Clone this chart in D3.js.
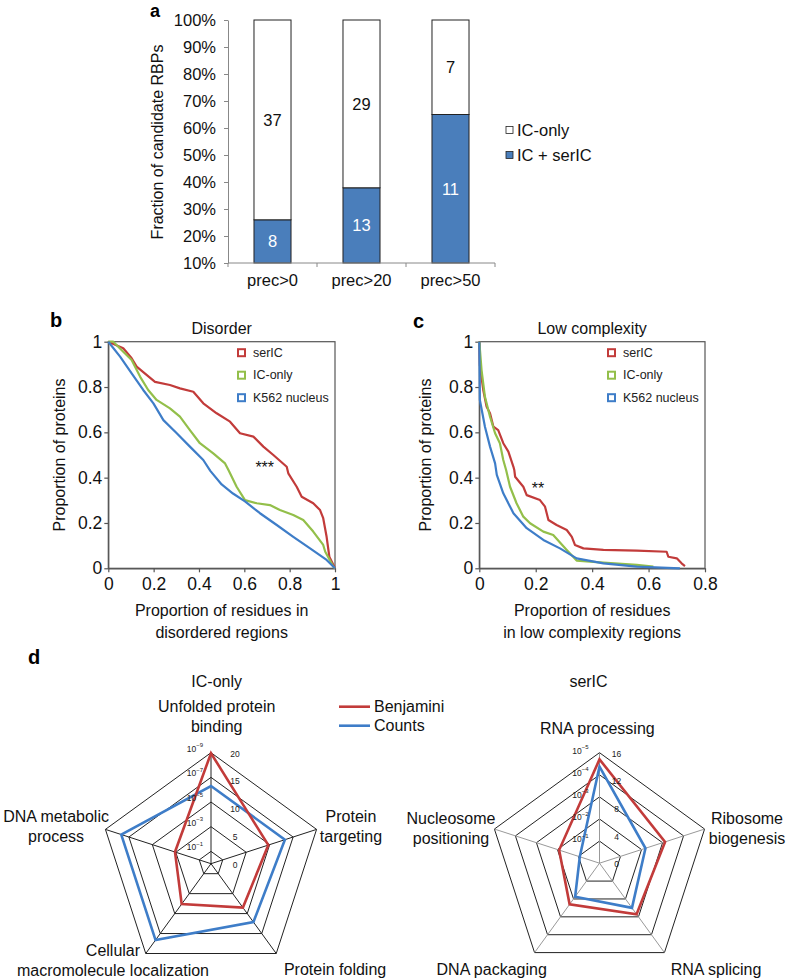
<!DOCTYPE html>
<html><head><meta charset="utf-8">
<script src="https://cdn.jsdelivr.net/npm/d3@7"></script>
<style>
body{margin:0;background:#fff;}
svg{display:block;font-family:Arial,"Liberation Sans",Helvetica,sans-serif;}
</style></head><body>
<svg id="fig" width="788" height="980"></svg>
<script>
// ---------- Panel a data ----------
const barCategories = ["prec>0", "prec>20", "prec>50"];
const icOnlyCounts = [37, 29, 7];
const icSerICCounts = [8, 13, 11];
const barTickLabels = ["10%","20%","30%","40%","50%","60%","70%","80%","90%","100%"];
const barLegend = ["IC-only", "IC + serIC"];

// ---------- Panel b data (x = proportion of residues, y = proportion of proteins) ----------
const disorderTicks = [0, 0.2, 0.4, 0.6, 0.8, 1];
const disorderSerIC = [[0,1],[0.066,0.971],[0.103,0.927],[0.125,0.89],[0.206,0.823],[0.272,0.809],[0.316,0.794],[0.375,0.779],[0.419,0.728],[0.478,0.684],[0.537,0.647],[0.581,0.596],[0.64,0.581],[0.684,0.537],[0.728,0.5],[0.787,0.448],[0.794,0.419],[0.831,0.36],[0.853,0.316],[0.904,0.287],[0.934,0.257],[0.948,0.221],[0.963,0.139],[0.975,0.051],[0.993,0.015],[1,0]];
const disorderICOnly = [[0,1],[0.022,1],[0.066,0.956],[0.103,0.919],[0.14,0.846],[0.176,0.787],[0.213,0.743],[0.272,0.706],[0.316,0.669],[0.36,0.61],[0.404,0.552],[0.463,0.507],[0.515,0.463],[0.53,0.434],[0.566,0.36],[0.603,0.301],[0.655,0.287],[0.713,0.279],[0.757,0.257],[0.816,0.235],[0.86,0.213],[0.904,0.162],[0.948,0.103],[0.957,0.073],[0.993,0.007],[1,0]];
const disorderK562 = [[0,1],[0.052,0.934],[0.103,0.86],[0.154,0.787],[0.199,0.728],[0.243,0.654],[0.302,0.596],[0.36,0.537],[0.419,0.478],[0.45,0.43],[0.5,0.37],[0.55,0.33],[0.603,0.295],[0.669,0.243],[0.743,0.191],[0.816,0.139],[0.89,0.088],[0.963,0.037],[1,0]];

// ---------- Panel c data ----------
const lowcTicksX = [0, 0.2, 0.4, 0.6, 0.8];
const lowcTicksY = [0, 0.2, 0.4, 0.6, 0.8, 1];
const lowcSerIC = [[0,1],[0.002,0.897],[0.014,0.787],[0.026,0.713],[0.038,0.684],[0.05,0.625],[0.067,0.61],[0.085,0.552],[0.103,0.515],[0.121,0.448],[0.124,0.434],[0.127,0.404],[0.156,0.36],[0.168,0.323],[0.215,0.301],[0.233,0.272],[0.245,0.213],[0.274,0.191],[0.31,0.169],[0.328,0.139],[0.339,0.103],[0.369,0.088],[0.44,0.081],[0.558,0.078],[0.664,0.073],[0.67,0.051],[0.7,0.044],[0.717,0.022],[0.729,0.01]];
const lowcICOnly = [[0,1],[0.008,0.875],[0.02,0.757],[0.038,0.669],[0.056,0.596],[0.073,0.552],[0.085,0.478],[0.095,0.434],[0.109,0.36],[0.132,0.287],[0.156,0.228],[0.18,0.199],[0.227,0.162],[0.262,0.147],[0.31,0.081],[0.345,0.034],[0.44,0.025],[0.558,0.015],[0.617,0.007]];
const lowcK562 = [[0,1],[0.002,0.743],[0.02,0.625],[0.038,0.537],[0.056,0.463],[0.062,0.412],[0.085,0.331],[0.121,0.243],[0.168,0.177],[0.227,0.125],[0.286,0.088],[0.345,0.044],[0.44,0.022],[0.558,0.007],[0.711,0]];
const curveLegend = ["serIC", "IC-only", "K562 nucleus"];

// ---------- Panel d data ----------
const icOnlyTerms = [["Unfolded protein","binding"],["Protein","targeting"],["Protein folding"],["Cellular","macromolecule localization"],["DNA metabolic","process"]];
const icOnlyBenjaminiP = [1.1e-9, 1.3e-5, 4e-5, 9e-5, 8.5e-4];
const icOnlyGOCounts = [14, 14, 13, 17, 17];
const icOnlyPTicks = [1e-1, 1e-3, 1e-5, 1e-7, 1e-9];
const icOnlyCountTicks = [0, 5, 10, 15, 20];

const serICTerms = [["RNA processing"],["Ribosome","biogenesis"],["RNA splicing"],["DNA packaging"],["Nucleosome","positioning"]];
const serICBenjaminiP = [2e-5, 7.6e-4, 1.4e-3, 5e-3, 1.2e-2];
const serICGOCounts = [14, 7, 8, 6, 3];
const serICPTicks = [1e-1, 1e-2, 1e-3, 1e-4, 1e-5];
const serICCountTicks = [0, 4, 8, 12, 16];
const radarLegend = ["Benjamini", "Counts"];

// ---------- styling ----------
const RED = "#c23b3a", GREEN = "#93bf4a", BLUE = "#3e7dc8", BARBLUE = "#4a7ebb";
const AXIS = "#555";
const svg = d3.select("#fig");

function panelLabel(t, x, y, fs) {
  svg.append("text").attr("x", x).attr("y", y).attr("font-size", fs || 20).attr("font-weight", "bold").text(t);
}

// ================= Panel a =================
(function () {
  const x = d3.scaleBand().domain(barCategories).range([228, 495]).paddingInner(0.584).paddingOuter(0.292);
  const y = d3.scaleLinear().domain([0, 1]).range([263, 20]);
  const tickY = d3.scalePoint().domain(barTickLabels).range([263, 20]);
  const g = svg.append("g");

  const data = barCategories.map((c, i) => {
    const tot = icOnlyCounts[i] + icSerICCounts[i];
    return { c, a: icSerICCounts[i], b: icOnlyCounts[i], f: icSerICCounts[i] / tot };
  });

  g.selectAll("rect.blue").data(data).join("rect")
    .attr("x", d => x(d.c)).attr("width", x.bandwidth())
    .attr("y", d => y(d.f)).attr("height", d => y(0) - y(d.f))
    .attr("fill", BARBLUE).attr("stroke", "#222").attr("stroke-width", 1);
  g.selectAll("rect.white").data(data).join("rect")
    .attr("x", d => x(d.c)).attr("width", x.bandwidth())
    .attr("y", y(1)).attr("height", d => y(d.f) - y(1))
    .attr("fill", "#fff").attr("stroke", "#222").attr("stroke-width", 1);

  g.selectAll("text.bl").data(data).join("text")
    .attr("x", d => x(d.c) + x.bandwidth() / 2).attr("y", d => (y(0) + y(d.f)) / 2)
    .attr("text-anchor", "middle").attr("dominant-baseline", "central")
    .attr("font-size", 16.5).attr("fill", "#fff").text(d => d.a);
  g.selectAll("text.wl").data(data).join("text")
    .attr("x", d => x(d.c) + x.bandwidth() / 2).attr("y", d => (y(1) + y(d.f)) / 2)
    .attr("text-anchor", "middle").attr("dominant-baseline", "central")
    .attr("font-size", 16.5).attr("fill", "#111").text(d => d.b);

  const ya = g.append("g").attr("transform", "translate(228,0)")
    .call(d3.axisLeft(tickY).tickSize(4).tickSizeOuter(0).tickPadding(8));
  ya.selectAll("text").attr("font-size", 16.5).attr("fill", "#111").attr("font-family", null);
  ya.selectAll("line,path").attr("stroke", "#888");

  const xr = x.range(), step = x.step();
  g.append("line").attr("x1", xr[0]).attr("x2", xr[1]).attr("y1", y(0)).attr("y2", y(0)).attr("stroke", "#888");
  g.selectAll("line.xt").data(d3.range(barCategories.length + 1)).join("line")
    .attr("x1", i => xr[0] + i * step).attr("x2", i => xr[0] + i * step)
    .attr("y1", y(0)).attr("y2", y(0) + 4).attr("stroke", "#888");
  g.selectAll("text.xl").data(barCategories).join("text")
    .attr("x", d => x(d) + x.bandwidth() / 2).attr("y", 286)
    .attr("text-anchor", "middle").attr("font-size", 16.5).attr("fill", "#111").text(d => d);

  g.append("text").attr("transform", "translate(157,142) rotate(-90)")
    .attr("text-anchor", "middle").attr("dominant-baseline", "central")
    .attr("font-size", 16).attr("fill", "#111").text("Fraction of candidate RBPs");

  const fills = ["#fff", BARBLUE];
  const lg = g.selectAll("g.lg").data(barLegend).join("g")
    .attr("transform", (d, i) => `translate(506,${130 + i * 25})`);
  lg.append("rect").attr("x", 0).attr("y", -3.5).attr("width", 7).attr("height", 7)
    .attr("fill", (d, i) => fills[i]).attr("stroke", "#222").attr("stroke-width", 0.8);
  lg.append("text").attr("x", 11).attr("y", 0).attr("dominant-baseline", "central")
    .attr("font-size", 16.5).attr("fill", "#111").text(d => d);

  panelLabel("a", 150, 17, 18);
})();

// ================= Panels b & c =================
function cdfPanel(o) {
  const g = svg.append("g");
  const x = d3.scaleLinear().domain(o.xDomain).range(o.xRange);
  const y = d3.scaleLinear().domain([0, 1]).range([568.3, 341.7]);
  const [x0, x1] = o.xRange, y0 = y(0), y1 = y(1);

  g.append("rect").attr("x", x0).attr("y", y1).attr("width", x1 - x0).attr("height", y0 - y1)
    .attr("fill", "none").attr("stroke", AXIS).attr("stroke-width", 1.2);

  const xa = g.append("g").attr("transform", `translate(0,${y0})`)
    .call(d3.axisBottom(x).tickValues(o.xTicks).tickFormat(d => String(d)).tickSize(4).tickSizeOuter(0).tickPadding(5));
  const ya = g.append("g").attr("transform", `translate(${x0},0)`)
    .call(d3.axisLeft(y).tickValues(o.yTicks).tickFormat(d => String(d)).tickSize(4).tickSizeOuter(0).tickPadding(2));
  [xa, ya].forEach(a => {
    a.selectAll("text").attr("font-size", 17.5).attr("fill", "#111").attr("font-family", null);
    a.selectAll("line,path").attr("stroke", AXIS).attr("stroke-width", 1.2);
  });

  const line = d3.line().x(d => x(d[0])).y(d => y(d[1]));
  o.series.forEach(s => {
    g.append("path").datum(s.data).attr("d", line).attr("fill", "none")
      .attr("stroke", s.color).attr("stroke-width", 2.2).attr("stroke-linejoin", "round");
  });

  const lg = g.selectAll("g.lg").data(o.series).join("g")
    .attr("transform", (d, i) => `translate(${o.legX},${352.7 + i * 22.5})`);
  lg.append("rect").attr("x", 0).attr("y", -3.5).attr("width", 7).attr("height", 7)
    .attr("fill", "#fff").attr("stroke", d => d.color).attr("stroke-width", 2);
  lg.append("text").attr("x", 15).attr("y", 0).attr("dominant-baseline", "central")
    .attr("font-size", 12.5).attr("fill", "#222").text(d => d.name);

  g.append("text").attr("x", (x0 + x1) / 2).attr("y", 328).attr("text-anchor", "middle")
    .attr("dominant-baseline", "central").attr("font-size", 16).attr("fill", "#111").text(o.title);
  o.xTitle.forEach((t, i) => g.append("text").attr("x", (x0 + x1) / 2).attr("y", 610 + i * 22)
    .attr("text-anchor", "middle").attr("dominant-baseline", "central")
    .attr("font-size", 16).attr("fill", "#111").text(t));
  g.append("text").attr("transform", `translate(${o.yTitleX},${(y0 + y1) / 2}) rotate(-90)`)
    .attr("text-anchor", "middle").attr("dominant-baseline", "central")
    .attr("font-size", 16).attr("fill", "#111").text("Proportion of proteins");
  g.append("text").attr("x", x(o.star[0])).attr("y", y(o.star[1])).attr("text-anchor", "middle")
    .attr("dominant-baseline", "central").attr("font-size", 16).attr("fill", "#111").text(o.star[2]);
}

cdfPanel({
  title: "Disorder", xDomain: [0, 1], xRange: [108.3, 335], xTicks: disorderTicks, yTicks: disorderTicks,
  series: [
    { name: curveLegend[0], color: RED, data: disorderSerIC },
    { name: curveLegend[1], color: GREEN, data: disorderICOnly },
    { name: curveLegend[2], color: BLUE, data: disorderK562 }],
  legX: 238, xTitle: ["Proportion of residues in", "disordered regions"], yTitleX: 59,
  star: [0.69, 0.445, "***"]
});
cdfPanel({
  title: "Low complexity", xDomain: [0, 0.8], xRange: [479.3, 705], xTicks: lowcTicksX, yTicks: lowcTicksY,
  series: [
    { name: curveLegend[0], color: RED, data: lowcSerIC },
    { name: curveLegend[1], color: GREEN, data: lowcICOnly },
    { name: curveLegend[2], color: BLUE, data: lowcK562 }],
  legX: 608, xTitle: ["Proportion of residues", "in low complexity regions"], yTitleX: 425,
  star: [0.208, 0.354, "**"]
});
panelLabel("b", 50, 327);
panelLabel("c", 413, 328);

// ================= Panel d (radar) =================
function radar(o) {
  const g = svg.append("g").attr("transform", `translate(${o.cx},${o.cy})`);
  const n = o.terms.length;
  const ang = i => i * 2 * Math.PI / n;
  const rP = d3.scaleLog().domain([1, o.pMax]).range([0, o.R]);
  const rC = d3.scaleLinear().domain([0, o.cMax]).range([0, o.R]);
  const idx = d3.range(n);
  const radial = d3.lineRadial().angle(d => d[0]).radius(d => d[1]).curve(d3.curveLinearClosed);

  o.pTicks.forEach(p => {
    g.append("path").attr("d", radial(idx.map(i => [ang(i), rP(p)])))
      .attr("fill", "none").attr("stroke", "#222").attr("stroke-width", 1);
  });
  idx.forEach(i => {
    const a = ang(i) - Math.PI / 2;
    g.append("line").attr("x1", 0).attr("y1", 0)
      .attr("x2", o.R * Math.cos(a)).attr("y2", o.R * Math.sin(a))
      .attr("stroke", o.spoke).attr("stroke-width", 1);
  });
  g.append("path").attr("d", radial(o.counts.map((c, i) => [ang(i), rC(c)])))
    .attr("fill", "none").attr("stroke", BLUE).attr("stroke-width", 2.6).attr("stroke-linejoin", "miter");
  g.append("path").attr("d", radial(o.pvals.map((p, i) => [ang(i), rP(p)])))
    .attr("fill", "none").attr("stroke", RED).attr("stroke-width", 2.6).attr("stroke-linejoin", "miter");

  o.pTicks.forEach(p => {
    const t = g.append("text").attr("x", o.pLabX).attr("y", -rP(p) + o.pLabDy)
      .attr("text-anchor", "end").attr("dominant-baseline", "central")
      .attr("font-size", 8.5).attr("fill", "#222");
    t.append("tspan").text("10");
    t.append("tspan").attr("dy", -3.5).attr("font-size", 6).text("\u2212" + Math.round(-Math.log10(p)));
  });
  o.cTicks.forEach(c => {
    g.append("text").attr("x", o.cLabX).attr("y", -rC(c) + 1)
      .attr("text-anchor", "middle").attr("dominant-baseline", "central")
      .attr("font-size", 8.5).attr("fill", "#222").text(c);
  });

  o.terms.forEach((lines, i) => {
    const a = ang(i) - Math.PI / 2;
    const vx = o.R * Math.cos(a), vy = o.R * Math.sin(a);
    const off = o.labOff[i];
    lines.forEach((t, j) => {
      g.append("text").attr("x", vx + off[0]).attr("y", vy + off[1] + j * 20)
        .attr("text-anchor", "middle").attr("dominant-baseline", "central")
        .attr("font-size", 16).attr("fill", "#111").text(t);
    });
  });
  g.append("text").attr("x", o.titleX).attr("y", -o.R - 71).attr("text-anchor", "middle")
    .attr("dominant-baseline", "central").attr("font-size", 16).attr("fill", "#111").text(o.title);
}

radar({
  title: "IC-only", titleX: 5.7, cx: 211, cy: 863.7, R: 111,
  terms: icOnlyTerms, pvals: icOnlyBenjaminiP, counts: icOnlyGOCounts,
  pMax: 1e-9, cMax: 20, pTicks: icOnlyPTicks, cTicks: icOnlyCountTicks,
  pLabX: -8, pLabDy: -4, cLabX: 24, spoke: "#222",
  labOff: [[5.7, -46], [34.4, -12.7], [58.8, 15.8], [-32.8, -2.5], [-49.4, -12.7]]
});
radar({
  title: "serIC", titleX: -11, cx: 599.5, cy: 863.2, R: 110.5,
  terms: serICTerms, pvals: serICBenjaminiP, counts: serICGOCounts,
  pMax: 1e-5, cMax: 16, pTicks: serICPTicks, cTicks: serICCountTicks,
  pLabX: -11, pLabDy: -2, cLabX: 17, spoke: "#999",
  labOff: [[-2.2, -24.4], [42.4, -10.8], [51.6, 16.7], [-42.9, 16.7], [-43.4, -10.1]]
});

(function () {
  const cols = [RED, BLUE];
  const lg = svg.selectAll("g.rl").data(radarLegend).join("g")
    .attr("transform", (d, i) => `translate(339,${706.7 + i * 19})`);
  lg.append("line").attr("x1", 0).attr("x2", 31).attr("y1", 0).attr("y2", 0)
    .attr("stroke", (d, i) => cols[i]).attr("stroke-width", 2.6);
  lg.append("text").attr("x", 35).attr("y", 0).attr("dominant-baseline", "central")
    .attr("font-size", 16).attr("fill", "#111").text(d => d);
})();
panelLabel("d", 28, 664);
</script>
</body></html>
